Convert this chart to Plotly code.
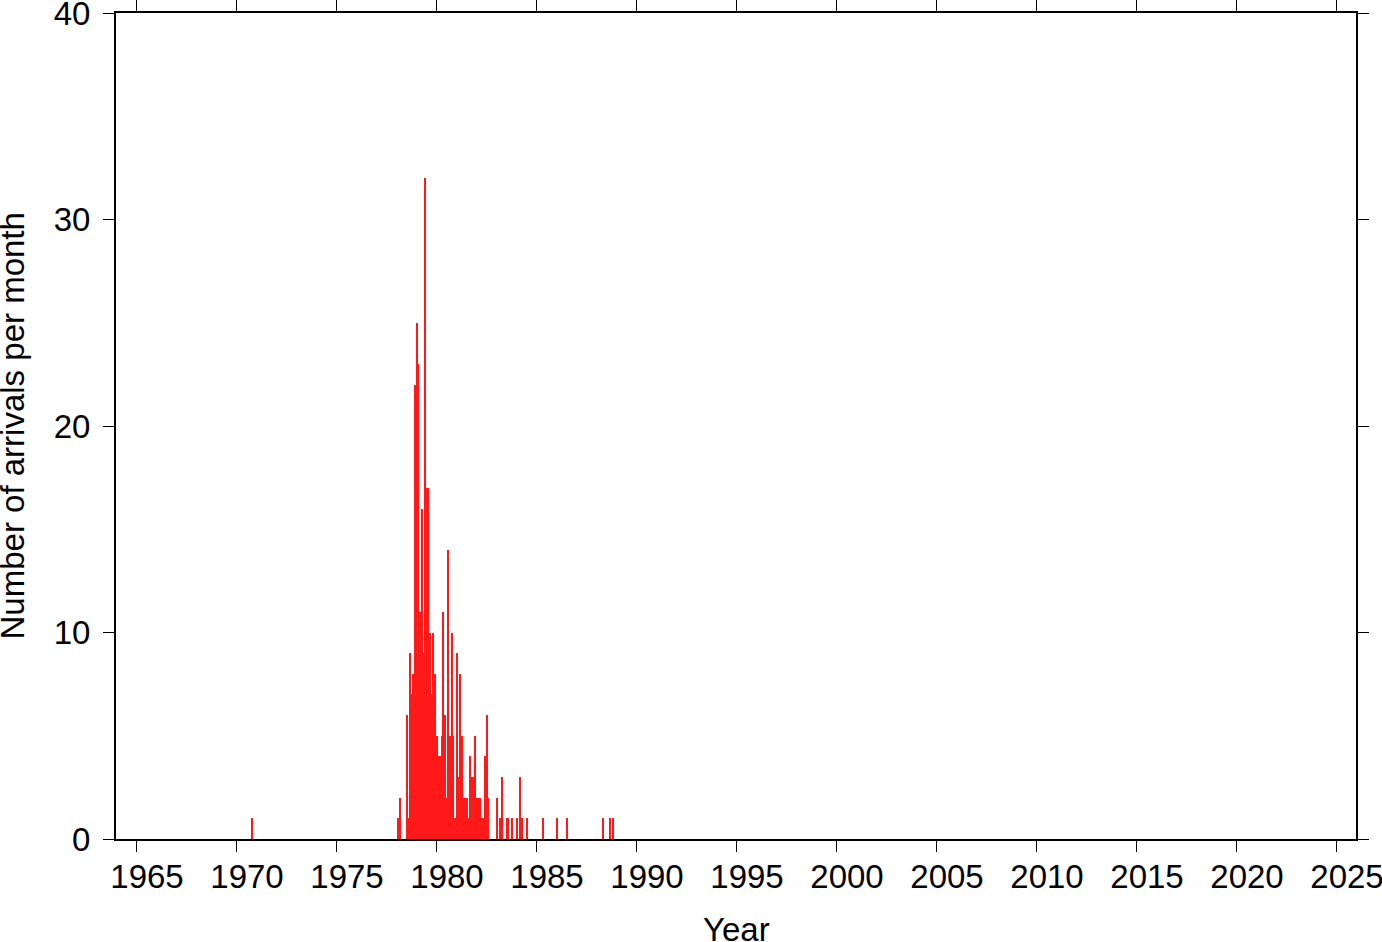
import plotly.graph_objects as go

# Monthly bins (year-month) and number of arrivals in each month
months = [
    "1970-10",
    "1978-02", "1978-03", "1978-07", "1978-08", "1978-09", "1978-10", "1978-11",
    "1978-12", "1979-01", "1979-02", "1979-03", "1979-04", "1979-05", "1979-06",
    "1979-07", "1979-08", "1979-09", "1979-10", "1979-11", "1979-12", "1980-01",
    "1980-02", "1980-03", "1980-04", "1980-05", "1980-06", "1980-07", "1980-08",
    "1980-09", "1980-10", "1980-11", "1980-12", "1981-01", "1981-02", "1981-03",
    "1981-04", "1981-05", "1981-06", "1981-07", "1981-08", "1981-09", "1981-10",
    "1981-11", "1981-12", "1982-01", "1982-02", "1982-03", "1982-04", "1982-05",
    "1982-06", "1982-07", "1982-08", "1983-01", "1983-03", "1983-04", "1983-07",
    "1983-08", "1983-10", "1984-01", "1984-03", "1984-04", "1984-07", "1985-05",
    "1986-01", "1986-07", "1988-05", "1988-09", "1988-11",
]
counts = [
    1,
    1, 2, 6, 1, 9, 7, 8,
    22, 25, 23, 11, 16, 9, 32,
    17, 17, 10, 7, 10, 8, 5,
    4, 4, 5, 11, 6, 2, 14,
    5, 10, 5, 1, 9, 3, 8,
    5, 2, 2, 2, 1, 4, 3,
    3, 5, 2, 2, 2, 1, 1,
    4, 6, 2, 2, 1, 3, 1,
    1, 1, 1, 3, 1, 1, 1,
    1, 1, 1, 1, 1,
]

x_ticks = list(range(1965, 2026, 5))
y_ticks = [0, 10, 20, 30, 40]

# bin centres in decimal years (each bin spans one calendar month)
x_centres = [int(m[:4]) + (int(m[5:]) - 1) / 12 + 1 / 24 for m in months]

FONT = "Liberation Sans, Arial, Helvetica, sans-serif"
FS = 33

fig = go.Figure(
    go.Bar(
        x=x_centres,
        y=counts,
        width=0.056,
        marker=dict(color="rgb(255,25,25)", line=dict(width=0)),
    )
)

fig.update_layout(
    width=1382,
    height=942,
    margin=dict(l=116, r=26, t=13, b=103, autoexpand=False),
    paper_bgcolor="white",
    plot_bgcolor="white",
    showlegend=False,
    bargap=0,
    font=dict(family=FONT, size=FS, color="black"),
    xaxis=dict(
        range=[1964, 2026],
        tickvals=x_ticks,
        ticktext=[str(v) for v in x_ticks],
        ticks="outside",
        ticklen=11,
        tickwidth=1,
        tickcolor="black",
        showline=True,
        linewidth=2,
        linecolor="black",
        mirror="ticks",
        showgrid=False,
        zeroline=False,
        automargin=False,
        ticklabelshift=11,
        ticklabelstandoff=-4,
        ticklabeloverflow="allow",
        tickfont=dict(family=FONT, size=FS, color="black"),
    ),
    yaxis=dict(
        range=[0, 40],
        tickvals=y_ticks,
        ticks="outside",
        ticklen=11,
        tickwidth=1,
        tickcolor="black",
        showline=True,
        linewidth=2,
        linecolor="black",
        mirror="ticks",
        showgrid=False,
        zeroline=False,
        automargin=False,
        ticklabelstandoff=6,
        ticklabeloverflow="allow",
        tickfont=dict(family=FONT, size=FS, color="black"),
    ),
    annotations=[
        dict(
            text="Year",
            xref="paper", yref="paper",
            x=0.5, y=-0.110,
            xanchor="center", yanchor="middle",
            showarrow=False,
            font=dict(family=FONT, size=FS, color="black"),
        ),
        dict(
            text="Number of arrivals per month",
            xref="paper", yref="paper",
            x=-0.0835, y=0.5,
            xanchor="center", yanchor="middle",
            textangle=-90,
            showarrow=False,
            font=dict(family=FONT, size=FS, color="black"),
        ),
    ],
)

fig.write_html(
    "out.html",
    config={"displayModeBar": False},
    post_script="document.body.style.margin='0';document.body.style.overflow='hidden';",
)
